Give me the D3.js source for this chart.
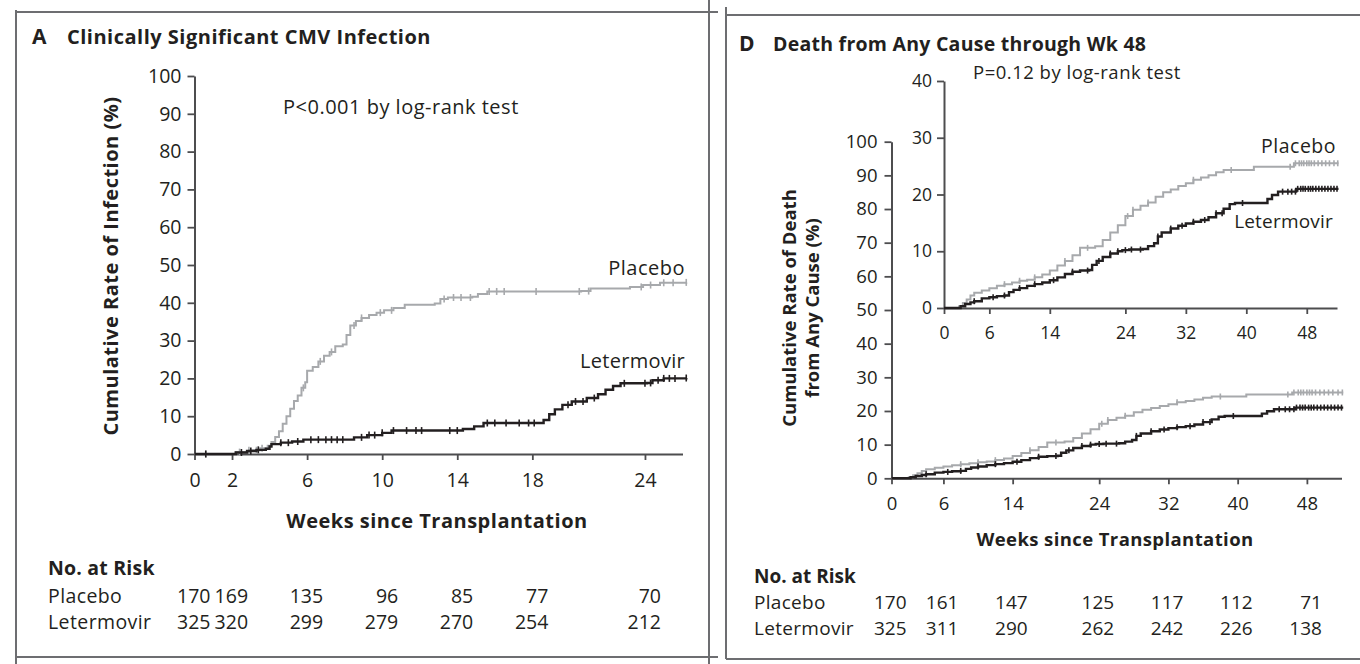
<!DOCTYPE html>
<html><head><meta charset="utf-8">
<script src="https://cdn.jsdelivr.net/npm/d3@7"></script>
<style>
body{margin:0;background:#fff}
svg{display:block}
text{font-family:'Open Sans',sans-serif;fill:#231f20}
</style></head>
<body><svg id="c" width="1360" height="664"></svg>
<script>
// ---------------- DATA ----------------
// Panel A: clinically significant CMV infection, [week, cumulative %]
const placeboA = [[0,0],[1.9,0],[2.2,0.5],[2.9,1.0],[3.5,1.5],[3.9,2.2],[4.1,3.2],[4.3,4.5],[4.5,6],[4.7,8],[4.9,10],[5.1,12],[5.3,14],[5.5,15.5],[5.7,17.5],[5.9,19],[6.0,22],[6.3,23],[6.6,24.5],[6.9,26],[7.2,27],[7.5,28.5],[7.9,29],[8.1,31.5],[8.3,34],[8.6,35.2],[8.9,36],[9.3,36.8],[9.7,37.4],[10.1,38],[10.6,38.6],[11.2,39.5],[12.8,39.8],[13.1,41],[13.5,41.4],[14.8,41.6],[15.1,42.3],[15.6,43],[20.6,43.1],[21.1,43.8],[23.2,44.2],[23.9,44.7],[24.8,45.3],[26.2,45.4]];
const letermovirA = [[0,0],[1.9,0],[2.2,0.4],[2.8,0.8],[3.3,1.1],[3.8,1.4],[4.0,2.0],[4.1,2.6],[4.6,3.0],[5.2,3.3],[5.8,3.8],[8.3,3.8],[8.5,4.4],[9.2,5.0],[10.0,5.6],[10.5,6.2],[13.8,6.2],[14.3,6.6],[14.9,7.3],[15.4,8.2],[18.3,8.2],[18.6,9.0],[18.9,10.5],[19.2,11.8],[19.6,13.0],[20.1,13.9],[20.9,14.8],[21.5,15.8],[21.9,17.0],[22.3,18.0],[22.7,18.7],[24.1,18.8],[24.4,19.5],[25.0,20.0],[26.2,20.1]];
const censorPlaceboA = [0.6,2.4,2.9,3.3,3.6,5.8,6.7,7.3,8.5,8.9,9.9,10.5,13.3,13.8,14.2,14.7,15.7,16.1,16.5,18.2,20.5,21.0,23.8,24.3,25.0,25.5,26.2];
const censorLetermovirA = [0.6,2.5,3.0,3.4,4.6,5.0,5.5,6.2,6.6,7.0,7.3,7.6,7.9,8.9,9.3,9.6,10.0,10.6,11.3,11.8,12.1,13.6,14.0,15.6,16.0,16.6,17.3,17.8,18.1,19.9,20.3,20.7,21.3,22.9,24.0,24.3,24.7,25.0,25.3,25.6,26.2];
const xTicksA = [0,2,6,10,14,18,24];
const yTicksA = [0,10,20,30,40,50,60,70,80,90,100];
const riskTimesA = [0,2,6,10,14,18,24];
const riskPlaceboA = [170,169,135,96,85,77,70];
const riskLetermovirA = [325,320,299,279,270,254,212];

// Panel D: death from any cause through week 48, [week, cumulative %]
const placeboD = [[0,0],[1.6,0],[2.0,0.3],[2.5,0.9],[3.0,1.5],[3.5,2.2],[4.0,2.7],[5.0,3.1],[6.0,3.5],[7.0,3.9],[8.0,4.2],[9.0,4.5],[10.0,4.8],[11.0,5.0],[12.0,5.4],[13.0,5.9],[14.0,6.6],[15.0,7.5],[16.0,8.3],[17.0,9.3],[18.0,10.6],[20.0,10.9],[21.0,12.0],[22.0,13.3],[23.0,14.6],[24.0,16.2],[25.0,17.3],[26.0,18.0],[27.0,18.6],[28.0,19.6],[29.0,20.4],[30.0,20.9],[31.0,21.5],[32.0,22.0],[33.0,22.6],[34.0,23.0],[35.0,23.4],[36.0,23.9],[37.0,24.3],[40.6,24.3],[41.0,24.9],[45.5,24.9],[46.3,25.5],[52.2,25.5]];
const letermovirD = [[0,0],[1.8,0],[2.2,0.3],[2.8,0.7],[3.5,1.0],[4.0,1.2],[5.0,1.7],[6.0,1.9],[7.0,2.1],[8.0,2.2],[8.6,2.8],[9.2,3.2],[10.0,3.5],[11.0,3.9],[12.0,4.2],[13.0,4.5],[14.0,4.9],[15.0,5.4],[16.0,6.0],[17.0,6.4],[18.0,6.6],[19.2,6.7],[19.6,7.6],[20.2,8.3],[21.0,9.0],[22.0,9.6],[23.0,10.0],[23.6,10.2],[24.5,10.3],[26.3,10.4],[27.0,10.9],[27.8,11.4],[28.3,12.6],[28.8,13.3],[30.0,14.0],[31.0,14.5],[32.0,14.9],[33.0,15.2],[34.0,15.5],[35.0,16.0],[36.0,16.7],[37.0,17.5],[37.8,18.3],[38.5,18.5],[42.2,18.5],[42.8,19.2],[43.4,19.9],[44.2,20.5],[46.2,20.5],[46.6,21.0],[52.2,21.0]];
const censorPlaceboD = [8,10,12,16,19,24.3,25,27,33,38,45.8,46.5,47.0,47.3,47.6,48.0,48.3,48.6,49,49.5,50,50.5,51,51.6,52.1];
const censorLetermovirD = [4,6.5,8,10,12,14.5,17,19,20.5,22,23,24,24.8,26,28.3,30,31.5,33,34.5,36,36.8,39.5,44.8,45.5,46,46.5,46.8,47.2,47.5,47.8,48.2,48.5,48.8,49.2,49.6,50,50.4,50.8,51.2,51.6,52];
const xTicksD = [0,6,14,24,32,40,48];
const yTicksDMain = [0,10,20,30,40,50,60,70,80,90,100];
const yTicksDInset = [0,10,20,30,40];
const riskTimesD = [0,6,14,24,32,40,48];
const riskPlaceboD = [170,161,147,125,117,112,71];
const riskLetermovirD = [325,311,290,262,242,226,138];

// ---------------- DRAW ----------------
const svg = d3.select('#c');
const AX = '#4d4d4f', PLC = '#a7a9ac', LET = '#231f20', FR = '#6d6e71';

// frames
const frames = [[16,12,718,12],[16,10,16,664],[709,0,709,664],[16,657,718,657],
                [726,7,726,659],[726,15,1360,15],[726,659,1360,659]];
svg.selectAll('line.fr').data(frames).join('line').attr('class','fr')
  .attr('x1',d=>d[0]).attr('y1',d=>d[1]).attr('x2',d=>d[2]).attr('y2',d=>d[3])
  .attr('stroke',FR).attr('stroke-width',2);

function styleAxis(g){
  g.selectAll('path.domain').attr('stroke',AX).attr('stroke-width',2);
  g.selectAll('.tick line').attr('stroke',AX).attr('stroke-width',1.8);
  g.selectAll('text').attr('fill','#231f20').style('font-family',"'Open Sans',sans-serif");
}

function stepAt(data, t){
  const i = d3.bisector(d=>d[0]).right(data, t) - 1;
  return data[Math.max(0,i)][1];
}

function drawKM(g, x, y, data, censor, color, width, ch){
  g.append('path').datum(data)
    .attr('fill','none').attr('stroke',color).attr('stroke-width',width)
    .attr('d', d3.line().x(d=>x(d[0])).y(d=>y(d[1])).curve(d3.curveStepAfter));
  g.selectAll(null).data(censor).join('line')
    .attr('x1',t=>x(t)).attr('x2',t=>x(t))
    .attr('y1',t=>y(stepAt(data,t))-ch).attr('y2',t=>y(stepAt(data,t))+ch)
    .attr('stroke',color).attr('stroke-width',1.6);
}

function txt(g, x, y, s, size, opts={}){
  const t = g.append('text').attr('x',x).attr('y',y).attr('font-size',size).text(s);
  if (opts.bold) t.attr('font-weight',700);
  if (opts.anchor) t.attr('text-anchor',opts.anchor);
  if (opts.ls) t.attr('letter-spacing',opts.ls);
  return t;
}

// ===== Panel A =====
const xA = d3.scaleLinear().domain([0,26]).range([194.5,682.5]);
const yA = d3.scaleLinear().domain([0,100]).range([454,76]);
const gA = svg.append('g');

txt(gA, 32, 44, 'A', 21, {bold:true});
txt(gA, 67, 44, 'Clinically Significant CMV Infection', 20, {bold:true, ls:0.5});

const axYA = gA.append('g').attr('transform',`translate(${xA(0)},0)`)
  .call(d3.axisLeft(yA).tickValues(yTicksA).tickSize(7).tickSizeOuter(0).tickPadding(6));
axYA.selectAll('text').attr('font-size',19.5);
styleAxis(axYA);
const axXA = gA.append('g').attr('transform',`translate(0,${yA(0)})`)
  .call(d3.axisBottom(xA).tickValues(xTicksA).tickSize(6).tickSizeOuter(0).tickPadding(13));
axXA.selectAll('text').attr('font-size',19.5);
styleAxis(axXA);

gA.append('text').attr('transform','translate(118,266) rotate(-90)').attr('text-anchor','middle')
  .attr('font-size',20).attr('font-weight',700).attr('letter-spacing',0.5).text('Cumulative Rate of Infection (%)');
txt(gA, 437, 528, 'Weeks since Transplantation', 20, {bold:true, anchor:'middle', ls:0.5});
txt(gA, 283, 114, 'P<0.001 by log-rank test', 20, {ls:0.5});

drawKM(gA, xA, yA, placeboA, censorPlaceboA, PLC, 2, 3.5);
drawKM(gA, xA, yA, letermovirA, censorLetermovirA, LET, 2.4, 3.5);

txt(gA, 685, 275, 'Placebo', 20, {anchor:'end', ls:0.5});
txt(gA, 685, 368, 'Letermovir', 20, {anchor:'end', ls:0.3});

// risk table A
txt(gA, 48, 575, 'No. at Risk', 19.5, {bold:true, ls:0.2});
txt(gA, 48, 603, 'Placebo', 19.5, {ls:0.4});
txt(gA, 48, 629, 'Letermovir', 19.5, {ls:0.4});
gA.selectAll('text.rpa').data(riskPlaceboA).join('text').attr('class','rpa')
  .attr('x',(d,i)=>xA(riskTimesA[i])+16).attr('y',603).attr('text-anchor','end').attr('font-size',19.5).text(d=>d);
gA.selectAll('text.rla').data(riskLetermovirA).join('text').attr('class','rla')
  .attr('x',(d,i)=>xA(riskTimesA[i])+16).attr('y',629).attr('text-anchor','end').attr('font-size',19.5).text(d=>d);

// ===== Panel D =====
const gD = svg.append('g');
txt(gD, 739, 51, 'D', 21, {bold:true});
txt(gD, 773, 51, 'Death from Any Cause through Wk 48', 19.5, {bold:true, ls:0.25});

// main plot
const xD = d3.scaleLinear().domain([0,52]).range([891.5,1341.5]);
const yD = d3.scaleLinear().domain([0,100]).range([478.3,141.7]);
const axYD = gD.append('g').attr('transform',`translate(${xD(0)},0)`)
  .call(d3.axisLeft(yD).tickValues(yTicksDMain).tickSize(7).tickSizeOuter(0).tickPadding(7));
axYD.selectAll('text').attr('font-size',18.5);
styleAxis(axYD);
const axXD = gD.append('g').attr('transform',`translate(0,${yD(0)})`)
  .call(d3.axisBottom(xD).tickValues(xTicksD).tickSize(6).tickSizeOuter(0).tickPadding(13));
axXD.selectAll('text').attr('font-size',18.5);
styleAxis(axXD);
drawKM(gD, xD, yD, placeboD, censorPlaceboD, PLC, 2, 3);
drawKM(gD, xD, yD, letermovirD, censorLetermovirD, LET, 2.4, 3);

gD.append('text').attr('transform','translate(796,308) rotate(-90)').attr('text-anchor','middle')
  .attr('font-size',18.5).attr('font-weight',700).text('Cumulative Rate of Death');
gD.append('text').attr('transform','translate(819,308) rotate(-90)').attr('text-anchor','middle')
  .attr('font-size',18.5).attr('font-weight',700).text('from Any Cause (%)');
txt(gD, 1115, 546, 'Weeks since Transplantation', 18.5, {bold:true, anchor:'middle', ls:0.4});

// inset
const xI = d3.scaleLinear().domain([0,52]).range([944,1337]);
const yI = d3.scaleLinear().domain([0,40]).range([308,81]);
const axYI = gD.append('g').attr('transform',`translate(${xI(0)},0)`)
  .call(d3.axisLeft(yI).tickValues(yTicksDInset).tickSize(7).tickSizeOuter(0).tickPadding(5));
axYI.selectAll('text').attr('font-size',17.5);
styleAxis(axYI);
const axXI = gD.append('g').attr('transform',`translate(0,${yI(0)})`)
  .call(d3.axisBottom(xI).tickValues(xTicksD).tickSize(6).tickSizeOuter(0).tickPadding(13));
axXI.selectAll('text').attr('font-size',17.5);
styleAxis(axXI);
drawKM(gD, xI, yI, placeboD, censorPlaceboD, PLC, 2, 3);
drawKM(gD, xI, yI, letermovirD, censorLetermovirD, LET, 2.4, 3);
txt(gD, 973, 79, 'P=0.12 by log-rank test', 18.5, {ls:0.5});
txt(gD, 1336, 153, 'Placebo', 19.5, {anchor:'end', ls:0.5});
txt(gD, 1333, 228, 'Letermovir', 19, {anchor:'end', ls:0.2});

// risk table D
txt(gD, 754, 583, 'No. at Risk', 19, {bold:true});
txt(gD, 754, 609, 'Placebo', 19, {ls:0.3});
txt(gD, 754, 635, 'Letermovir', 19, {ls:0.3});
gD.selectAll('text.rpd').data(riskPlaceboD).join('text').attr('class','rpd')
  .attr('x',(d,i)=>xD(riskTimesD[i])+15).attr('y',609).attr('text-anchor','end').attr('font-size',19).text(d=>d);
gD.selectAll('text.rld').data(riskLetermovirD).join('text').attr('class','rld')
  .attr('x',(d,i)=>xD(riskTimesD[i])+15).attr('y',635).attr('text-anchor','end').attr('font-size',19).text(d=>d);
</script></body></html>
